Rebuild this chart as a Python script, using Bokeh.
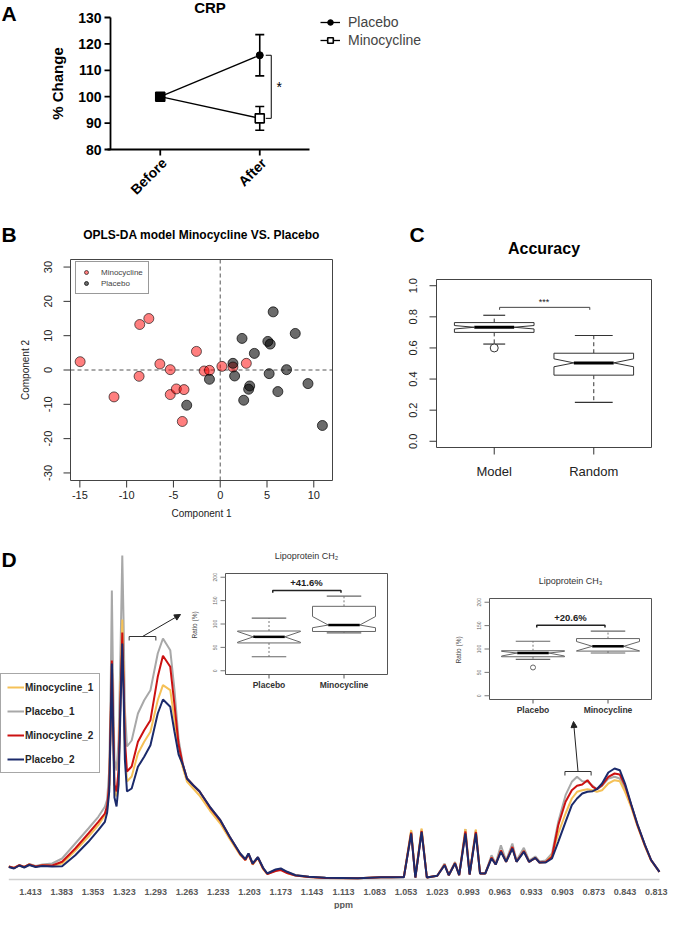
import math
from bokeh.plotting import figure
from bokeh.models import (Range1d, Legend, LegendItem, Arrow, NormalHead, ColumnDataSource)
from bokeh.embed import file_html
from bokeh.resources import INLINE
from bokeh.core.properties import value

FONT = "Liberation Sans"

# ---------------- Panel A data (CRP) ----------------
crp_timepoints = ["Before", "After"]
crp_positions = [1, 2]
crp_placebo_mean = [100.0, 115.7]
crp_placebo_sem = [0.0, 7.8]
crp_minocycline_mean = [100.0, 91.8]
crp_minocycline_sem = [0.0, 4.5]
crp_yticks = [80, 90, 100, 110, 120, 130]

# ---------------- Panel B data (OPLS-DA scores) ----------------
opls_minocycline_x = [-14.97, -11.35, -8.6, -7.63, -8.67, -6.45, -5.34, -5.34, -4.69, -3.87,
                      -4.05, -2.54, -1.72, -1.15, 0.18, 1.36, 2.79]
opls_minocycline_y = [2.42, -7.84, 13.26, 15.0, -1.84, 1.74, 0.1, -7.16, -5.52, -5.71,
                      -15.0, 5.42, -0.29, -0.1, 1.06, 0.87, 1.94]
opls_placebo_x = [-1.15, -3.58, 1.36, 1.54, 2.33, 2.51, 3.04, 3.15, 3.65, 5.09,
                  5.34, 5.23, 5.66, 6.16, 7.09, 8.02, 9.38, 10.92]
opls_placebo_y = [-2.71, -10.26, 1.94, -1.74, 9.2, -8.81, -5.61, -4.65, 4.84, 8.33,
                  7.55, -1.06, 16.94, -6.29, 0.1, 10.65, -3.97, -16.17]
opls_xticks = [-15, -10, -5, 0, 5, 10]
opls_yticks = [-30, -20, -10, 0, 10, 20, 30]

# ---------------- Panel C data (Accuracy) ----------------
acc_groups = ["Model", "Random"]
acc_positions = [1, 2]
acc_whisker_low = [0.625, 0.25]
acc_q1 = [0.700, 0.425]
acc_notch_low = [0.722, 0.479]
acc_median = [0.733, 0.504]
acc_notch_high = [0.744, 0.530]
acc_q3 = [0.763, 0.566]
acc_whisker_high = [0.810, 0.680]
acc_outlier_pos = [1]
acc_outlier_val = [0.60]
acc_yticks = [0.0, 0.2, 0.4, 0.6, 0.8, 1.0]

# ---------------- Panel D data (NMR spectra) ----------------
ppm = [1.4338, 1.4288, 1.4237, 1.4190, 1.4142, 1.4080, 1.4016, 1.3922, 1.3827, 1.3701,
       1.3575, 1.3480, 1.3417, 1.3395, 1.3375, 1.3360, 1.3350, 1.3340, 1.3325, 1.3305,
       1.3285, 1.3265, 1.3250, 1.3238, 1.3225, 1.3205, 1.3160, 1.3100, 1.3040, 1.2980,
       1.2910, 1.2860, 1.2790, 1.2750, 1.2710, 1.2670, 1.2630, 1.2570, 1.2510, 1.2490,
       1.2410, 1.2310, 1.2220, 1.2120, 1.2070, 1.2040, 1.2000, 1.1950, 1.1900, 1.1860,
       1.1780, 1.1730, 1.1670, 1.1590, 1.1460, 1.1300, 1.0990, 1.0770, 1.0670, 1.0550,
       1.0480, 1.0440, 1.0380, 1.0330, 1.0230, 1.0160, 1.0120, 1.0060, 1.0020, 0.9960,
       0.9920, 0.9860, 0.9820, 0.9770, 0.9710, 0.9670, 0.9620, 0.9570, 0.9510, 0.9470,
       0.9400, 0.9350, 0.9290, 0.9250, 0.9190, 0.9130, 0.9070, 0.9000, 0.8940, 0.8890,
       0.8840, 0.8790, 0.8740, 0.8700, 0.8650, 0.8590, 0.8530, 0.8480, 0.8430, 0.8370,
       0.8310, 0.8240, 0.8180, 0.8100]
placebo_1 = [13, 11.5, 14.5, 12.5, 15.5, 13.5, 15, 16, 21, 36,
             51, 62.7, 72.7, 80, 110, 200, 289, 210, 120, 109,
             140, 240, 324, 260, 170, 133, 139, 166, 179.3, 189.3,
             226, 241, 229.3, 190, 140, 116, 101, 94.3, 88.3, 85,
             72.7, 59.3, 42.7, 26, 20.3, 26, 16, 22.3, 11.7, 6,
             9.5, 10.5, 7.5, 4.5, 2.8, 1.8, 1.3, 2.3, 2.3, 2.5,
             48.5, 2, 50, 2, 3.7, 16, 4.5, 17.5, 4.5, 50.3,
             5, 49.3, 6, 6, 24.3, 16, 34.3, 19, 36, 19,
             31.7, 19, 23, 18, 19, 26, 57.7, 84.3, 97.7, 102.7,
             98.3, 97.7, 93.7, 90.3, 93.7, 101, 102.7, 101, 91, 74.3,
             54.3, 34.3, 19.3, 7.7]
minocycline_1 = [13, 11.5, 14.3, 12.5, 15, 13, 14.3, 13.5, 16, 28.7,
                 42.7, 54.3, 64.3, 70, 92, 165, 212, 165, 90, 83,
                 105, 200, 260, 210, 130, 98, 103, 126, 137.7, 147.7,
                 179.3, 194.3, 189.3, 160, 128, 112, 98, 91, 84, 81,
                 69, 56, 40.5, 24.5, 19.5, 25, 15, 21.5, 10.5, 5.5,
                 9, 10, 6.5, 4, 2.5, 1.5, 1.3, 2.3, 2.3, 2.5,
                 49.5, 2, 51, 2, 3.7, 15, 4.3, 16.5, 4.3, 50.5,
                 5, 50, 6, 6, 22, 15, 29, 17.7, 32, 17.7,
                 28.5, 17.7, 21.7, 17, 17.5, 24, 46, 66, 81, 87.7,
                 89.3, 90.3, 89.3, 87.7, 89.3, 96, 99.3, 98.3, 87.7, 72,
                 53, 33.5, 19, 7.5]
minocycline_2 = [13, 11.5, 14.3, 12.5, 15, 13, 14.3, 14, 17.7, 31,
                 46, 57.7, 66, 74, 95, 170, 219, 170, 95, 88,
                 110, 190, 247, 200, 140, 108, 113, 137.7, 149.3, 159.3,
                 202.7, 223.7, 212.7, 175, 135, 115, 101, 94.3, 88, 85,
                 72, 59, 42.5, 25.5, 19.5, 25.5, 15.5, 22, 11, 5.5,
                 8.5, 9.5, 6.5, 4, 2.5, 1.5, 1.3, 2.3, 2.3, 2.5,
                 47, 2, 48.5, 2, 3.7, 14.8, 4.3, 16.5, 4.3, 48,
                 5, 47.5, 6, 6, 22, 15, 29, 17.7, 32.5, 17.7,
                 28.5, 17.7, 21.7, 17, 17.5, 22.7, 54.3, 77.7, 89.3, 93.7,
                 95, 99.3, 92.7, 90.3, 94.3, 102.7, 106, 105, 94.3, 74.3,
                 54.3, 34.3, 19.3, 7.7]
placebo_2 = [12.5, 11, 14, 12, 14.5, 12.5, 13.5, 13, 13.3, 24.3,
             37.7, 49.3, 57.7, 67, 88, 160, 216, 160, 82, 73,
             95, 180, 236, 190, 120, 88, 91, 112.7, 122.7, 134.3,
             166, 180, 172.7, 148, 125, 115, 101, 94.3, 88.3, 85,
             72.7, 59.3, 42.7, 26, 20.3, 26, 16, 22.3, 11.7, 6,
             10, 11, 7.7, 4.3, 2.7, 1.7, 1.3, 2.3, 2.3, 2.3,
             46, 2, 47.7, 2, 3.7, 14.3, 4.3, 16, 4.3, 46,
             5, 46, 6, 6, 21, 15, 27.7, 17.7, 31, 17.7,
             27.7, 17.7, 21.7, 17, 17, 21, 37.7, 57.7, 74.3, 81,
             86, 87.7, 88.3, 90.3, 96, 107, 111, 109.3, 96, 75,
             55, 35, 19.5, 7.7]
ppm_ticks = [1.413, 1.383, 1.353, 1.323, 1.293, 1.263, 1.233, 1.203, 1.173, 1.143, 1.113,
             1.083, 1.053, 1.023, 0.993, 0.963, 0.933, 0.903, 0.873, 0.843, 0.813]
region_lo_ppm = [1.3184, 0.9006]
region_hi_ppm = [1.2928, 0.8755]
region_level = [243, 108]

# Insets (lipoprotein ratios, %)
inset_groups = ["Placebo", "Minocycline"]
inset_positions = [1, 2]
inset_yticks = [0, 50, 100, 150, 200]
ch2_whisker_low = [30.0, 81.0]
ch2_q1 = [59.5, 84.0]
ch2_notch_low = [61.0, 92.0]
ch2_median = [72.5, 97.8]
ch2_notch_high = [84.0, 116.0]
ch2_q3 = [85.0, 137.8]
ch2_whisker_high = [112.5, 159.6]
ch2_change = "+41.6%"
ch3_whisker_low = [77.7, 91.4]
ch3_q1 = [83.4, 95.5]
ch3_notch_low = [85.0, 96.0]
ch3_median = [91.4, 105.8]
ch3_notch_high = [95.0, 116.0]
ch3_q3 = [96.3, 122.3]
ch3_whisker_high = [116.6, 138.2]
ch3_outlier_pos = [1]
ch3_outlier_val = [60.5]
ch3_change = "+20.6%"

# ======================= page canvas =======================
PAGE_L, PAGE_R, PAGE_T, PAGE_B = 8, 677, 8, 917
P = figure(width=PAGE_R - PAGE_L, height=PAGE_B - PAGE_T,
           x_range=Range1d(PAGE_L, PAGE_R), y_range=Range1d(PAGE_B, PAGE_T),
           x_axis_location=None, y_axis_location=None, title=None,
           min_border=0, min_border_left=0, min_border_right=0, min_border_top=0, min_border_bottom=0,
           output_backend="svg", toolbar_location=None)
P.grid.visible = False
P.outline_line_color = None
P.background_fill_color = "white"
P.border_fill_color = "white"


def panel(xs, ys, box):
    """Map a panel's data ranges onto a page box (left, top, right, bottom)."""
    l, t, r, b = box
    api = P.subplot(x_source=Range1d(*xs), y_source=Range1d(*ys),
                    x_target=Range1d(l, r), y_target=Range1d(b, t))
    ux = (xs[1] - xs[0]) / (r - l)      # data units per pixel
    uy = (ys[1] - ys[0]) / (b - t)
    return api, ux, uy


def txt(api, xs, ys, texts, size, bold=False, align="center", baseline="middle",
        angle=0.0, color="black"):
    api.text(x=xs, y=ys, text=texts, angle=angle, text_font=value(FONT), text_font_size=size,
             text_font_style="bold" if bold else "normal", text_align=align,
             text_baseline=baseline, text_color=color)


def draw_boxes(api, pos, wl, q1, nlo, med, nhi, q3, wh, hw, shw, box_color, med_width,
               dash, whisk_color, staple_color):
    xs, ys = [], []
    for x, a, n0, m, n1, b in zip(pos, q1, nlo, med, nhi, q3):
        xs.append([x - hw, x - hw, x - hw / 2, x - hw, x - hw, x + hw, x + hw, x + hw / 2, x + hw, x + hw])
        ys.append([a, n0, m, n1, b, b, n1, m, n0, a])
    api.segment(x0=pos + pos, y0=q1 + q3, x1=pos + pos, y1=wl + wh,
                line_color=whisk_color, line_dash=dash, line_width=1)
    api.patches(xs=xs, ys=ys, fill_color="white", line_color=box_color, line_width=1)
    api.segment(x0=[x - hw / 2 for x in pos], y0=med, x1=[x + hw / 2 for x in pos], y1=med,
                line_color="black", line_width=med_width)
    sw = shw + shw
    api.segment(x0=[x - s for x, s in zip(pos + pos, sw)], y0=wl + wh,
                x1=[x + s for x, s in zip(pos + pos, sw)], y1=wl + wh,
                line_color=staple_color, line_width=1.2)


# ======================= Panel A =======================
A_XS, A_YS = (0.5, 2.5), (80, 130)
a, aux, auy = panel(A_XS, A_YS, (118, 25, 317, 157))
nA = len(crp_yticks)
a.segment(x0=[A_XS[0], A_XS[0] - 3 * aux], y0=[A_YS[0], A_YS[0]], x1=[A_XS[0], A_XS[1]],
          y1=[A_YS[1], A_YS[0]], line_color="black", line_width=1.8)
a.segment(x0=[A_XS[0]] * nA, y0=crp_yticks, x1=[A_XS[0] - 6 * aux] * nA, y1=crp_yticks,
          line_color="black", line_width=1.8)
txt(a, [A_XS[0] - 9 * aux] * nA, crp_yticks, [str(t) for t in crp_yticks], "14px", bold=True, align="right")
a.segment(x0=crp_positions, y0=[A_YS[0]] * 2, x1=crp_positions, y1=[A_YS[0] - 6 * auy] * 2,
          line_color="black", line_width=1.8)
txt(a, [p + 4 * aux for p in crp_positions], [A_YS[0] - 11 * auy] * 2, crp_timepoints, "14px",
    bold=True, align="right", angle=math.pi / 4)

rl_pl = a.line(crp_positions, crp_placebo_mean, line_color="black", line_width=1.3)
rl_mn = a.line(crp_positions, crp_minocycline_mean, line_color="black", line_width=1.3)
ex, elo, ehi = [], [], []
for pos_, m, e in list(zip(crp_positions, crp_placebo_mean, crp_placebo_sem)) + \
        list(zip(crp_positions, crp_minocycline_mean, crp_minocycline_sem)):
    if e > 0:
        ex.append(pos_); elo.append(m - e); ehi.append(m + e)
a.segment(x0=ex, y0=elo, x1=ex, y1=ehi, line_color="black", line_width=1.6)
cap = 4.5 * aux
a.segment(x0=[x - cap for x in ex] * 2, y0=elo + ehi, x1=[x + cap for x in ex] * 2, y1=elo + ehi,
          line_color="black", line_width=1.6)
mn_src = ColumnDataSource(dict(x=crp_positions, y=crp_minocycline_mean, fill=["black", "white"]))
rs_mn = a.scatter("x", "y", source=mn_src, marker="square", size=9, fill_color="fill",
                  line_color="black", line_width=1.6)
rs_pl = a.scatter(crp_positions, crp_placebo_mean, marker="circle", size=7,
                  fill_color="black", line_color="black")
bx0, bx1 = crp_positions[1] + 6 * aux, crp_positions[1] + 11.5 * aux
a.line([bx0, bx1, bx1, bx0],
       [crp_placebo_mean[1], crp_placebo_mean[1], crp_minocycline_mean[1], crp_minocycline_mean[1]],
       line_color="black", line_width=1)
txt(a, [bx1 + 8 * aux], [(crp_placebo_mean[1] + crp_minocycline_mean[1]) / 2], ["*"], "14px")
txt(P, [217.5], [15], ["CRP"], "15px", bold=True)
txt(P, [65], [91], ["% Change"], "15px", bold=True, angle=math.pi / 2)
txt(P, [9], [9], ["A"], "21px", bold=True, align="left", baseline="top")
legA = Legend(items=[LegendItem(label="Placebo", renderers=[rl_pl, rs_pl]),
                     LegendItem(label="Minocycline", renderers=[rl_mn, rs_mn], index=1)],
              location=(328 - PAGE_L, PAGE_B - 56), orientation="vertical", padding=0, margin=0,
              spacing=2, glyph_width=20, glyph_height=14, label_height=14, label_standoff=8,
              label_text_font=FONT, label_text_font_size="14px",
              border_line_color=None, background_fill_alpha=0)
P.add_layout(legA)

# ======================= Panel B =======================
B_XS, B_YS = (-16.0, 12.0), (-32.2, 32.2)
b, bux, buy = panel(B_XS, B_YS, (78, 267, 340, 488))
b.segment(x0=[0, B_XS[0]], y0=[B_YS[0], 0], x1=[0, B_XS[1]], y1=[B_YS[1], 0],
          line_color="#555555", line_dash="4 3", line_width=1)
rB_mn = b.scatter(opls_minocycline_x, opls_minocycline_y, size=10, fill_color="red", fill_alpha=0.5,
                  line_color="black", line_alpha=0.6, line_width=1)
rB_pl = b.scatter(opls_placebo_x, opls_placebo_y, size=10, fill_color="black", fill_alpha=0.58,
                  line_color="black", line_alpha=0.7, line_width=1)
b.quad(left=[B_XS[0]], right=[B_XS[1]], bottom=[B_YS[0]], top=[B_YS[1]], fill_color=None,
       line_color="#444444", line_width=1)
nbx, nby = len(opls_xticks), len(opls_yticks)
b.segment(x0=opls_xticks, y0=[B_YS[0]] * nbx, x1=opls_xticks, y1=[B_YS[0] - 7 * buy] * nbx,
          line_color="#333333", line_width=1)
txt(b, opls_xticks, [B_YS[0] - 14 * buy] * nbx, [str(t) for t in opls_xticks], "11px", color="#222222")
b.segment(x0=[B_XS[0]] * nby, y0=opls_yticks, x1=[B_XS[0] - 7 * bux] * nby, y1=opls_yticks,
          line_color="#333333", line_width=1)
txt(b, [B_XS[0] - 23 * bux] * nby, opls_yticks, [str(t) for t in opls_yticks], "11px",
    angle=math.pi / 2, color="#222222")
txt(P, [209], [521], ["Component 1"], "10px", color="#222222")
txt(P, [33], [377.5], ["Component 2"], "10px", angle=math.pi / 2, color="#222222")
txt(P, [209], [242], ["OPLS-DA model Minocycline VS. Placebo"], "12px", bold=True)
txt(P, [9], [230], ["B"], "21px", bold=True, align="left", baseline="top")
legB = Legend(items=[LegendItem(label="Minocycline", renderers=[rB_mn]),
                     LegendItem(label="Placebo", renderers=[rB_pl])],
              location=(83 - PAGE_L, PAGE_B - 302), margin=0, padding=5, spacing=1,
              glyph_width=10, glyph_height=10, label_height=10, label_standoff=10,
              label_text_font=FONT, label_text_font_size="8px",
              border_line_color="#333333", border_line_width=1, background_fill_color="white")
P.add_layout(legB)

# ======================= Panel C =======================
C_XS, C_YS = (0.42, 2.58), (-0.04, 1.04)
c, cux, cuy = panel(C_XS, C_YS, (444, 287, 659, 455))
draw_boxes(c, acc_positions, acc_whisker_low, acc_q1, acc_notch_low, acc_median, acc_notch_high,
           acc_q3, acc_whisker_high, 0.4, [0.11, 0.19], "#333333", 3, "4 3", "#333333", "#333333")
c.scatter(acc_outlier_pos, acc_outlier_val, marker="circle", size=8, fill_color="white",
          line_color="#333333", line_width=1)
c.line([1.054, 1.054, 1.96, 1.96], [0.845, 0.861, 0.861, 0.845], line_color="#444444", line_width=1)
txt(c, [1.5], [0.893], ["***"], "9px", color="#222222")
c.quad(left=[C_XS[0]], right=[C_XS[1]], bottom=[C_YS[0]], top=[C_YS[1]], fill_color=None,
       line_color="#444444", line_width=1)
ncy = len(acc_yticks)
c.segment(x0=acc_positions, y0=[C_YS[0]] * 2, x1=acc_positions, y1=[C_YS[0] - 7 * cuy] * 2,
          line_color="#333333", line_width=1)
txt(c, acc_positions, [C_YS[0] - 24 * cuy] * 2, acc_groups, "13px", color="#222222")
c.segment(x0=[C_XS[0]] * ncy, y0=acc_yticks, x1=[C_XS[0] - 7 * cux] * ncy, y1=acc_yticks,
          line_color="#333333", line_width=1)
txt(c, [C_XS[0] - 24 * cux] * ncy, acc_yticks, [f"{t:.1f}" for t in acc_yticks], "11px",
    angle=math.pi / 2, color="#222222")
txt(P, [551.5], [256], ["Accuracy"], "16px", bold=True)
txt(P, [417], [230], ["C"], "21px", bold=True, align="left", baseline="top")

# ======================= Panel D =======================
PX_PER_PPM = 1043.0
D_AXIS_Y = 887
S_XS, S_YS = (ppm_ticks[0], ppm_ticks[-1]), (0, 100)
s, sux, suy = panel(S_XS, S_YS, (38, D_AXIS_Y - 100, 38 + (S_XS[0] - S_XS[1]) * PX_PER_PPM, D_AXIS_Y))

colors = {"Minocycline_1": "#f5c157", "Placebo_1": "#a8a8a8",
          "Minocycline_2": "#cc1111", "Placebo_2": "#1b2a6b"}
s.segment(x0=[max(ppm)], y0=[0], x1=[min(ppm)], y1=[0], line_color="#d0d0d0", line_width=1.5)
r_p1 = s.line(ppm, placebo_1, line_color=colors["Placebo_1"], line_width=2)
r_m1 = s.line(ppm, minocycline_1, line_color=colors["Minocycline_1"], line_width=2)
r_m2 = s.line(ppm, minocycline_2, line_color=colors["Minocycline_2"], line_width=2)
r_p2 = s.line(ppm, placebo_2, line_color=colors["Placebo_2"], line_width=2)
txt(s, ppm_ticks, [-12 * suy] * len(ppm_ticks), [f"{t:.3f}" for t in ppm_ticks], "9px",
    bold=True, color="#595959")
txt(s, [(S_XS[0] + S_XS[1]) / 2], [-25 * suy], ["ppm"], "9px", bold=True, color="#595959")

# region brackets + arrows to the insets
s.segment(x0=region_lo_ppm, y0=region_level, x1=region_hi_ppm, y1=region_level,
          line_color="#333333", line_width=1)
s.segment(x0=region_lo_ppm + region_hi_ppm, y0=region_level + region_level,
          x1=region_lo_ppm + region_hi_ppm, y1=[v - 4 for v in region_level + region_level],
          line_color="#333333", line_width=1)
page_x = lambda v: 38 + (S_XS[0] - v) * PX_PER_PPM
page_y = lambda h: D_AXIS_Y - h
arrow_src = ColumnDataSource(dict(
    x0=[page_x((lo + hi) / 2) for lo, hi in zip(region_lo_ppm, region_hi_ppm)],
    y0=[page_y(h) for h in region_level],
    x1=[188, 581], y1=[622, 729]))
P.add_layout(Arrow(source=arrow_src, x_start="x0", y_start="y0", x_end="x1", y_end="y1",
                   line_color="#222222", line_width=1,
                   end=NormalHead(size=6, fill_color="#222222", line_color="#222222")))

legD = Legend(items=[LegendItem(label="Minocycline_1", renderers=[r_m1]),
                     LegendItem(label="Placebo_1", renderers=[r_p1]),
                     LegendItem(label="Minocycline_2", renderers=[r_m2]),
                     LegendItem(label="Placebo_2", renderers=[r_p2])],
              location=(0, PAGE_B - 781), margin=0, padding=6, spacing=10,
              glyph_width=17, glyph_height=14, label_height=14, label_standoff=1,
              label_text_font=FONT, label_text_font_size="10px", label_text_font_style="bold",
              label_text_color="#262626", border_line_color="#505050", border_line_width=1.5,
              background_fill_color="white")
P.add_layout(legD)
txt(P, [9], [555], ["D"], "21px", bold=True, align="left", baseline="top")


def draw_inset(box, title, wl, q1, nlo, med, nhi, q3, wh, change, bracket_y,
               out_pos=None, out_val=None):
    I_XS, I_YS = (0.42, 2.58), (-8, 208)
    xy, ux, uy = panel(I_XS, I_YS, box)
    n = len(inset_yticks)
    xy.quad(left=[I_XS[0]], right=[I_XS[1]], bottom=[I_YS[0]], top=[I_YS[1]], fill_color="white",
            line_color="#555555", line_width=1)
    xy.segment(x0=[I_XS[0]] * n, y0=inset_yticks, x1=[I_XS[0] - 5 * ux] * n, y1=inset_yticks,
               line_color="#777777", line_width=1)
    txt(xy, [I_XS[0] - 11 * ux] * n, inset_yticks, [str(v) for v in inset_yticks], "5px",
        angle=math.pi / 2, color="#666666")
    txt(xy, [I_XS[0] - 31 * ux], [(I_YS[0] + I_YS[1]) / 2], ["Ratio  (%)"], "6.5px",
        angle=math.pi / 2, color="#444444")
    xy.segment(x0=inset_positions, y0=[I_YS[0]] * 2, x1=inset_positions, y1=[I_YS[0] - 4 * uy] * 2,
               line_color="#555555", line_width=1)
    txt(xy, inset_positions, [I_YS[0] - 10.5 * uy] * 2, inset_groups, "8.5px", bold=True, color="#333333")
    txt(xy, [(I_XS[0] + I_XS[1]) / 2], [I_YS[1] + 17.5 * uy], [title], "9px", color="#333333")
    draw_boxes(xy, inset_positions, wl, q1, nlo, med, nhi, q3, wh, 0.42, [0.23, 0.23],
               "#666666", 2.5, "2 2", "#777777", "#666666")
    if out_pos:
        xy.scatter(out_pos, out_val, marker="circle", size=5, fill_color="white",
                   line_color="#666666", line_width=1)
    xy.line([1.05, 1.05, 1.96, 1.96], [bracket_y - 5, bracket_y, bracket_y, bracket_y - 5],
            line_color="#222222", line_width=1.5)
    txt(xy, [1.5], [bracket_y + 16], [change], "9.5px", bold=True, color="#222222")


draw_inset((233, 581, 395, 682), "Lipoprotein CH\u2082", ch2_whisker_low, ch2_q1, ch2_notch_low,
           ch2_median, ch2_notch_high, ch2_q3, ch2_whisker_high, ch2_change, 171.7)
draw_inset((497, 606, 659, 707), "Lipoprotein CH\u2083", ch3_whisker_low, ch3_q1, ch3_notch_low,
           ch3_median, ch3_notch_high, ch3_q3, ch3_whisker_high, ch3_change, 151.0,
           ch3_outlier_pos, ch3_outlier_val)

open("out.html", "w").write(file_html(P, INLINE))
